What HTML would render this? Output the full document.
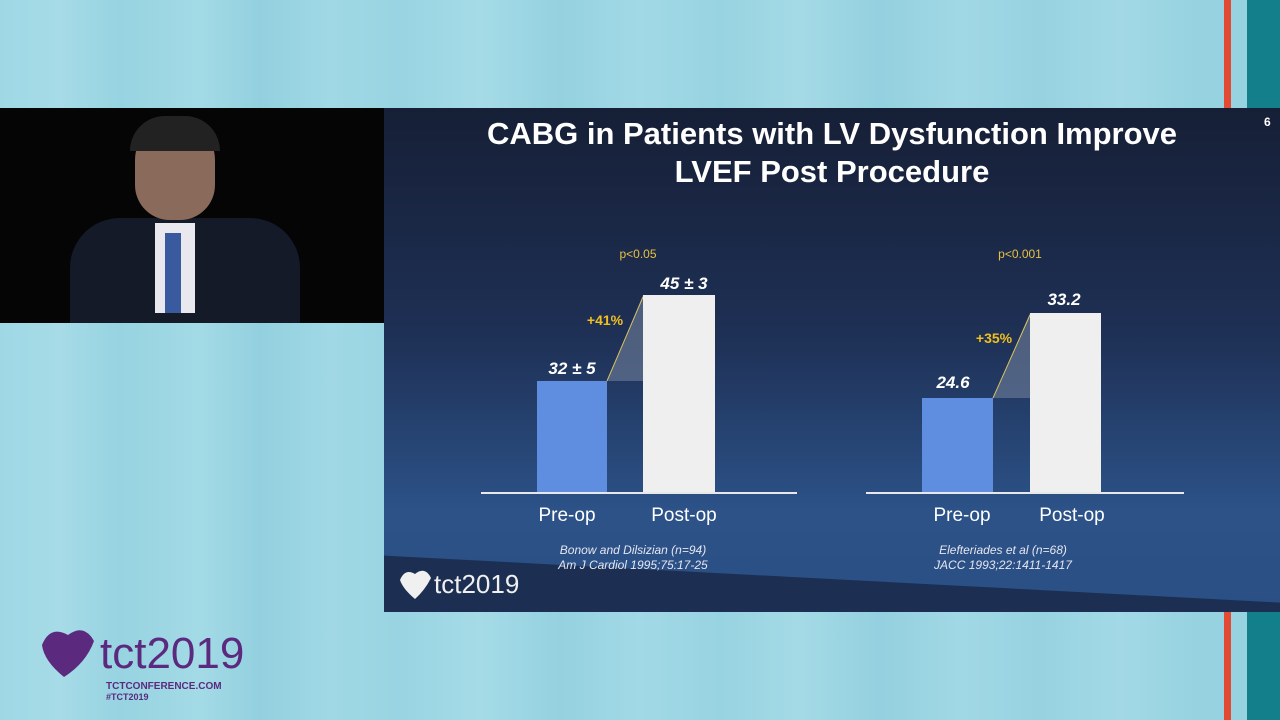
<!DOCTYPE html>
<html><head><style>
body{margin:0;width:1280px;height:720px;overflow:hidden;position:relative;font-family:"Liberation Sans",sans-serif;
background:linear-gradient(90deg,#9fd8e5 0,#a6dbe7 60px,#97d3e1 120px,#a3dae6 200px,#93d0df 260px,#a0d8e5 330px,#99d4e2 400px,#a5dbe7 480px,#95d1e0 560px,#a2d9e6 640px,#98d3e1 720px,#a4dae6 800px,#94d0df 880px,#a1d8e5 960px,#97d2e1 1040px,#a3d9e6 1120px,#96d2e0 1200px);}
.a{position:absolute}
</style></head><body>
<div class="a" style="left:1224px;top:0;width:7px;height:720px;background:#e24a33"></div>
<div class="a" style="left:1247px;top:0;width:33px;height:108px;background:#137f8a"></div>
<div class="a" style="left:1247px;top:612px;width:33px;height:108px;background:#137f8a"></div>
<div class="a" style="left:0;top:108px;width:384px;height:215px;background:#050505">
 <div class="a" style="left:70px;top:110px;width:230px;height:105px;background:#151a28;border-radius:50px 50px 0 0"></div>
 <div class="a" style="left:135px;top:12px;width:80px;height:100px;background:#8a6a5a;border-radius:40px 40px 35px 35px"></div>
 <div class="a" style="left:130px;top:8px;width:90px;height:35px;background:#222;border-radius:40px 40px 0 0"></div>
 <div class="a" style="left:155px;top:115px;width:40px;height:90px;background:#e8e8ee"></div>
 <div class="a" style="left:165px;top:125px;width:16px;height:80px;background:#3a5aa0"></div>
</div>
<div class="a" style="left:384px;top:108px;width:896px;height:504px;background:linear-gradient(180deg,#161f36 0%,#1e3055 45%,#2c5288 80%,#2a4f85 100%);overflow:hidden">
 <div class="a" style="left:-50px;top:445px;width:1000px;height:120px;background:#1c2f52;transform:rotate(3deg);transform-origin:0 0"></div>
</div>
<div class="a" style="left:384px;top:115px;width:896px;text-align:center;color:#fff;font-weight:bold;font-size:31px;line-height:38px">CABG in Patients with LV Dysfunction Improve<br>LVEF Post Procedure</div>
<div class="a" style="left:1264px;top:115px;color:#fff;font-size:12px;font-weight:bold">6</div>
<svg class="a" style="left:0;top:0" width="1280" height="720">
 <g font-family="Liberation Sans" >
 <polygon points="607,381 643,381 643,295" fill="#6f7f99" opacity="0.6"/>
 <line x1="607" y1="381" x2="643" y2="297" stroke="#d8c060" stroke-width="1"/>
 <polygon points="993,398 1030,398 1030,313" fill="#6f7f99" opacity="0.6"/>
 <line x1="993" y1="398" x2="1030" y2="315" stroke="#d8c060" stroke-width="1"/>
 <rect x="537" y="381" width="70" height="112" fill="#5f8de0"/>
 <rect x="643" y="295" width="72" height="198" fill="#efefef"/>
 <rect x="922" y="398" width="71" height="95" fill="#5f8de0"/>
 <rect x="1030" y="313" width="71" height="180" fill="#efefef"/>
 <line x1="481" y1="493" x2="797" y2="493" stroke="#e8e8e8" stroke-width="2"/>
 <line x1="866" y1="493" x2="1184" y2="493" stroke="#e8e8e8" stroke-width="2"/>
 <g fill="#e8c040" font-size="12"><text x="638" y="258" text-anchor="middle">p&lt;0.05</text><text x="1020" y="258" text-anchor="middle">p&lt;0.001</text></g>
 <g fill="#f0c020" font-size="14" font-weight="bold"><text x="605" y="325" text-anchor="middle">+41%</text><text x="994" y="343" text-anchor="middle">+35%</text></g>
 <g fill="#fff" font-size="17" font-weight="bold" font-style="italic" text-anchor="middle">
 <text x="572" y="374">32 ± 5</text><text x="684" y="289">45 ± 3</text><text x="953" y="388">24.6</text><text x="1064" y="305">33.2</text></g>
 <g fill="#fff" font-size="19" text-anchor="middle">
 <text x="567" y="521">Pre-op</text><text x="684" y="521">Post-op</text><text x="962" y="521">Pre-op</text><text x="1072" y="521">Post-op</text></g>
 <g fill="#e6e6f0" font-size="12" font-style="italic" text-anchor="middle">
 <text x="633" y="554">Bonow and Dilsizian (n=94)</text><text x="633" y="569">Am J Cardiol 1995;75:17-25</text>
 <text x="1003" y="554">Elefteriades et al (n=68)</text><text x="1003" y="569">JACC 1993;22:1411-1417</text></g>
 <path d="M400,580 q5,-12 15,-6 q10,-8 16,4 q-6,12 -16,21 q-12,-10 -15,-19z" fill="#f0f0f0"/>
 <text x="434" y="593" fill="#f0f0f0" font-size="26">tct2019</text>
 <path d="M42,645 q8,-20 26,-10 q16,-12 26,6 q-8,22 -30,36 q-20,-16 -22,-32z" fill="#5b2a7e"/>
 <text x="100" y="668" fill="#5b2a7e" font-size="44">tct2019</text>
 <text x="106" y="689" fill="#5b2a7e" font-size="10" font-weight="bold">TCTCONFERENCE.COM</text>
 <text x="106" y="700" fill="#5b2a7e" font-size="9" font-weight="bold">#TCT2019</text>
 </g>
</svg>
</body></html>
